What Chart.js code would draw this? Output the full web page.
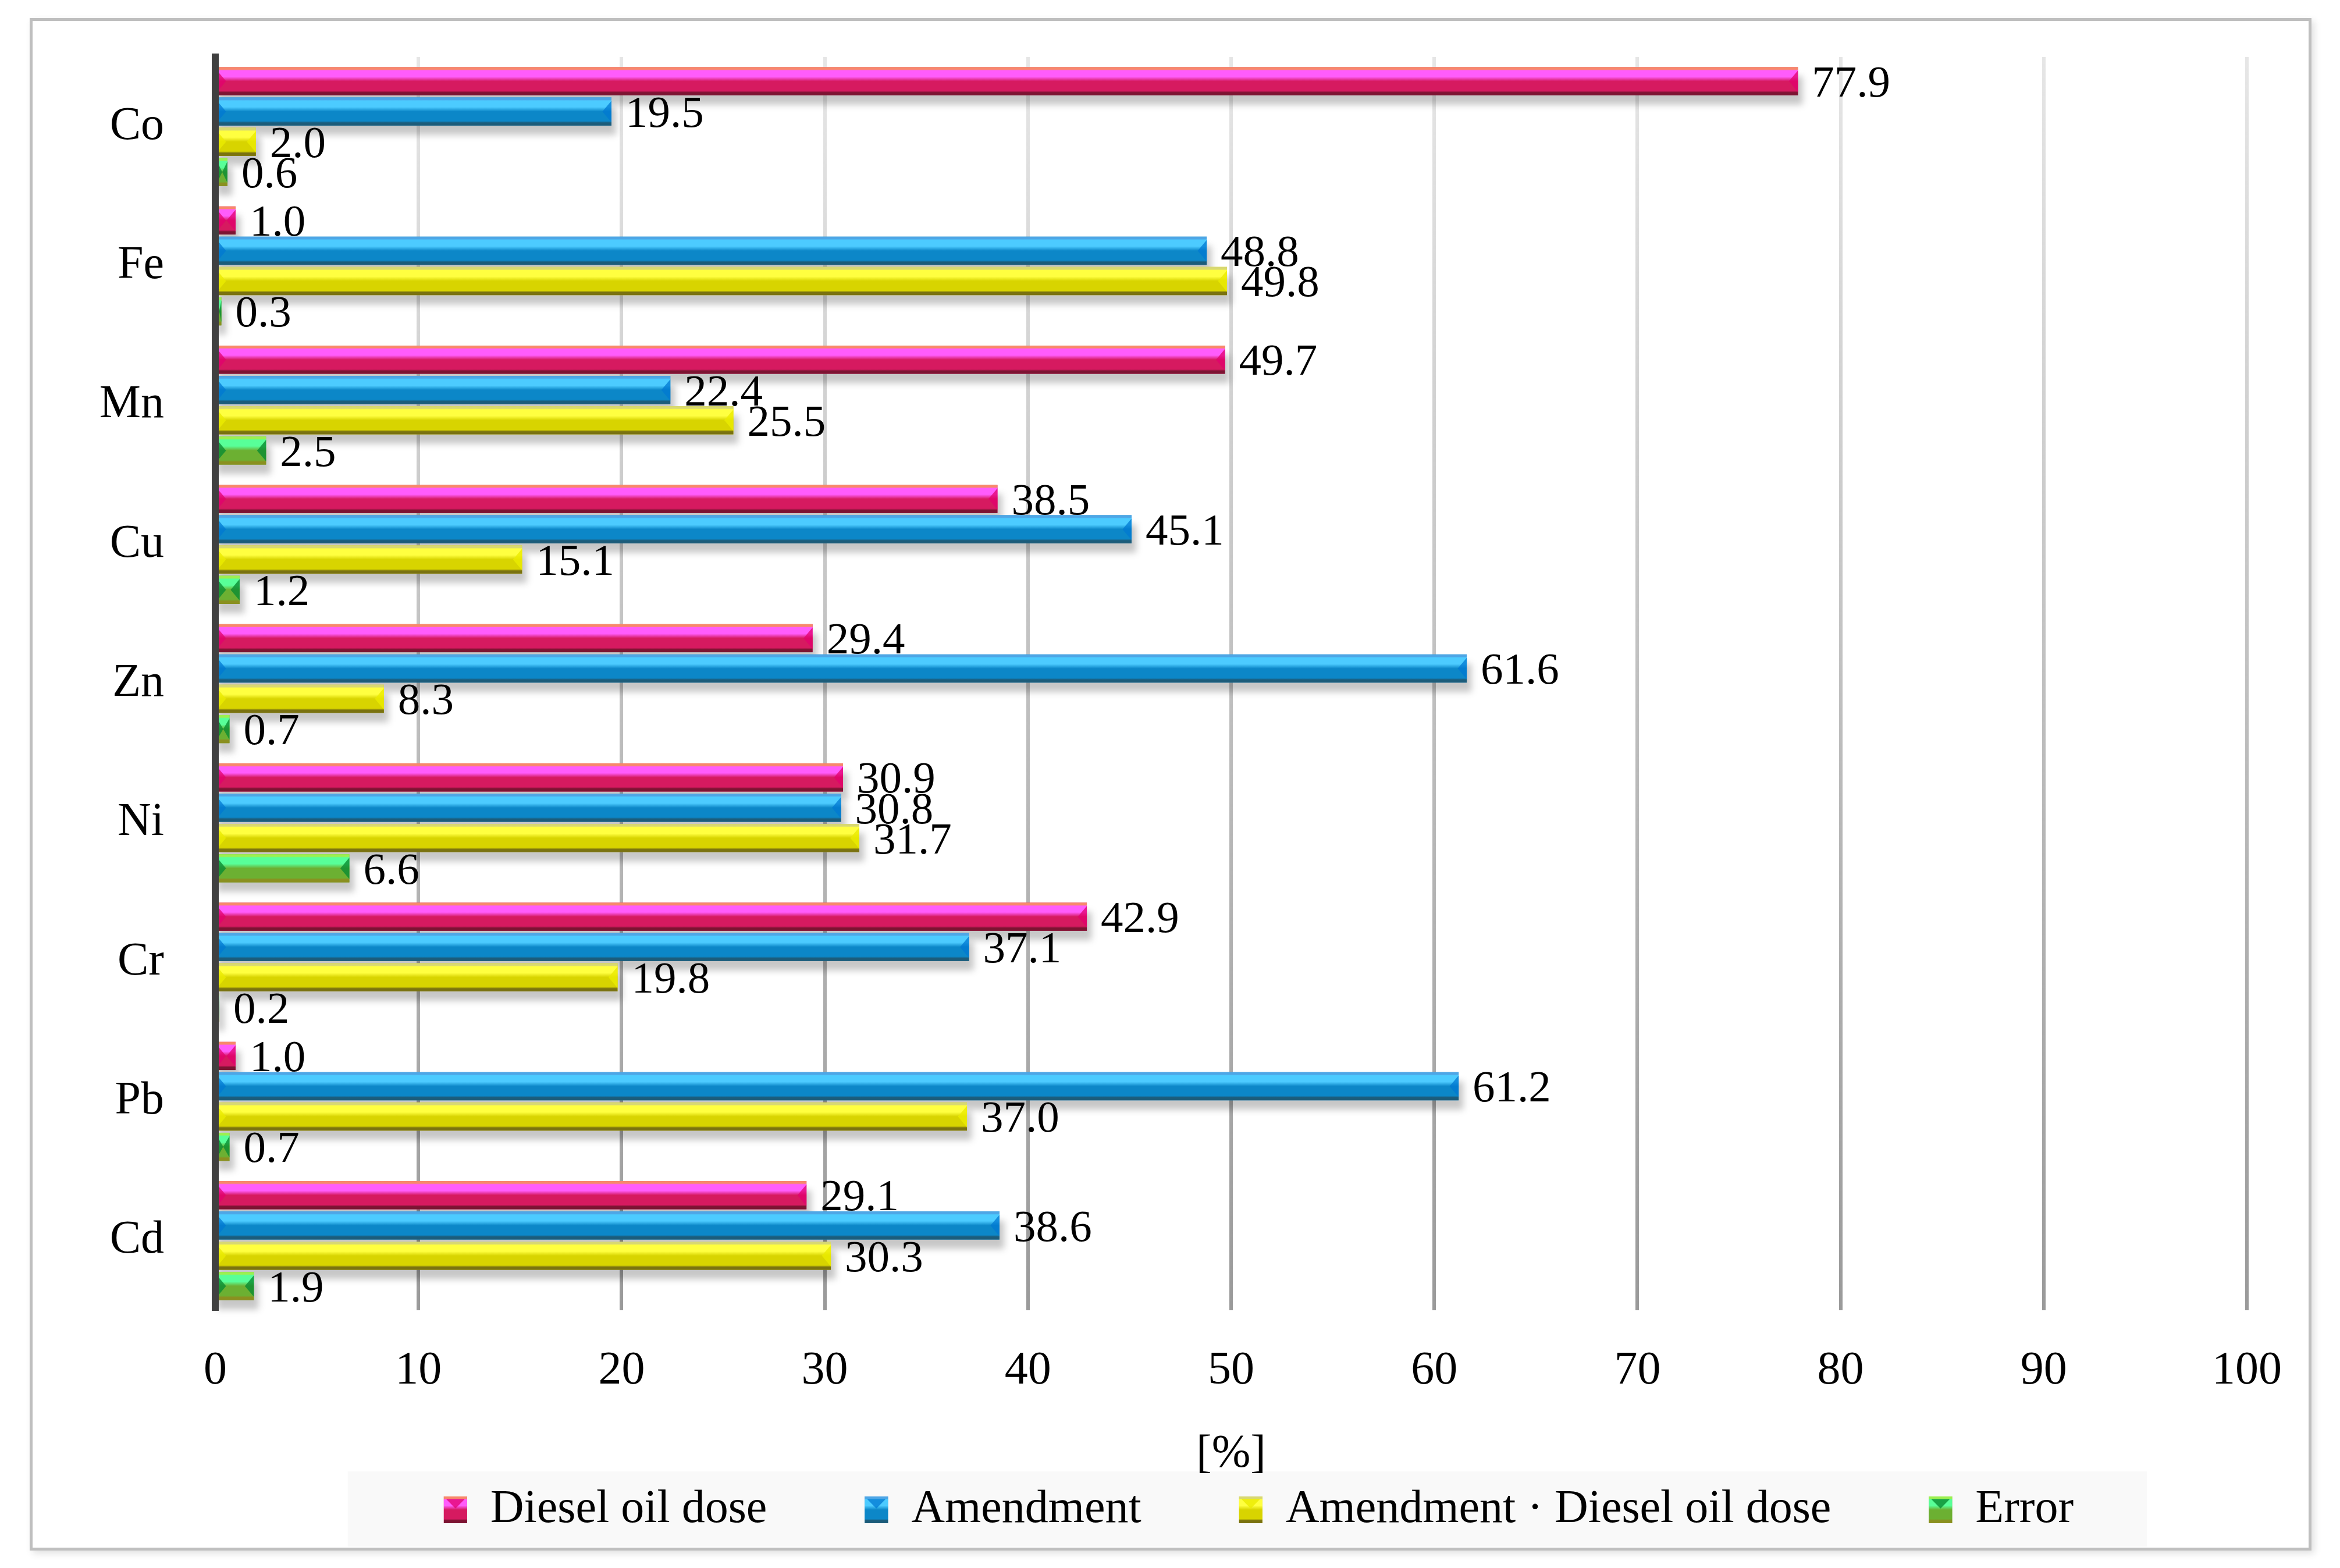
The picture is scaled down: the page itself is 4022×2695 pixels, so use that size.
<!DOCTYPE html>
<html>
<head>
	<meta charset="utf-8">
	<title>Diesel oil dose and amendment – share of variance</title>
	<script src="https://cdn.jsdelivr.net/npm/chart.js@4.4.0/dist/chart.umd.min.js"></script>
	<style>
		html, body { margin: 0; padding: 0; background: #fff; overflow: hidden; width: 4022px; height: 2695px; }
		#frame {
			position: absolute; left: 51px; top: 31px;
			width: 3922px; height: 2634px; box-sizing: border-box;
			border: 5px solid #bfbfbf; background: #fff;
			box-shadow: 5px 5px 12px rgba(0, 0, 0, 0.12);
		}
		#chart { display: block; position: absolute; left: 0; top: 0; }
	</style>
</head>
<body>
	<div id="frame"><canvas id="chart" width="4155" height="2624"></canvas></div>
	<script>
		// dane
		const metals = ['Co', 'Fe', 'Mn', 'Cu', 'Zn', 'Ni', 'Cr', 'Pb', 'Cd'];
		const seriesNames = ['Diesel oil dose', 'Amendment', 'Amendment \u00b7 Diesel oil dose', 'Error'];
		const dieselOil = [77.9, 1.0, 49.7, 38.5, 29.4, 30.9, 42.9, 1.0, 29.1];
		const amendment = [19.5, 48.8, 22.4, 45.1, 61.6, 30.8, 37.1, 61.2, 38.6];
		const interaction = [2.0, 49.8, 25.5, 15.1, 8.3, 31.7, 19.8, 37.0, 30.3];
		const errorPart = [0.6, 0.3, 2.5, 1.2, 0.7, 6.6, 0.2, 0.7, 1.9];
		const xTickValues = [0, 10, 20, 30, 40, 50, 60, 70, 80, 90, 100];

		// kolory "3D" slupkow (gora, jasny pas, srodek, dol, koncowki)
		const shades = [
			{ edge: '#f7896a', light: '#ff5cfb', mid: '#d61a60', dark: '#7c1432', tip: 'rgba(225,0,110,0.75)' },
			{ edge: '#4ea6e6', light: '#4ccbff', mid: '#0c87c8', dark: '#1c5c7a', tip: 'rgba(0,120,210,0.75)' },
			{ edge: '#d8d872', light: '#ffff40', mid: '#d8d400', dark: '#7a7210', tip: 'rgba(235,235,0,0.8)' },
			{ edge: '#9cf050', light: '#58ff98', mid: '#6cb032', dark: '#8a9020', tip: 'rgba(10,140,50,0.8)' }
		];

		Chart.defaults.font.family = "'Liberation Serif', 'Times New Roman', serif";
		Chart.defaults.color = '#000';

		function paintBar(ctx, left, right, top, bottom, s, marker) {
			const h = bottom - top;
			const g = ctx.createLinearGradient(0, top, 0, bottom);
			g.addColorStop(0, s.edge); g.addColorStop(0.08, s.edge);
			g.addColorStop(0.12, s.light); g.addColorStop(0.34, s.light);
			g.addColorStop(0.5, s.mid); g.addColorStop(0.84, s.mid);
			g.addColorStop(0.9, s.dark); g.addColorStop(1, s.dark);
			ctx.fillStyle = g;
			ctx.fillRect(left, top, right - left, h);
			ctx.fillStyle = s.tip;
			if (marker) {
				const w = right - left;
				ctx.beginPath();
				ctx.moveTo(left + w * 0.1, top + h * 0.1);
				ctx.lineTo(left + w / 2, top + h * 0.45);
				ctx.lineTo(right - w * 0.1, top + h * 0.1);
				ctx.fill();
				return;
			}
			const t = Math.min(h * 0.32, (right - left) / 2);
			ctx.beginPath();
			ctx.moveTo(left, top + h * 0.12);
			ctx.lineTo(left + t, top + h / 2);
			ctx.lineTo(left, bottom - h * 0.12);
			ctx.fill();
			ctx.beginPath();
			ctx.moveTo(right, top + h * 0.12);
			ctx.lineTo(right - t, top + h / 2);
			ctx.lineTo(right, bottom - h * 0.12);
			ctx.fill();
		}

		// cienie, cieniowanie slupkow, etykiety wartosci, tlo legendy
		const barLook = {
			id: 'barLook',
			beforeDraw(chart) {
				const hb = chart.legend.legendHitBoxes;
				if (!hb || !hb.length) return;
				const first = hb[0], last = hb[hb.length - 1];
				const ctx = chart.ctx;
				ctx.save();
				ctx.fillStyle = '#f9f9f9';
				const l = first.left - 165, r = last.left + last.width + 126;
				ctx.fillRect(l, first.top - 26, r - l, first.height + 49);
				ctx.restore();
			},
			beforeDatasetsDraw(chart) {
				const ctx = chart.ctx;
				ctx.save();
				ctx.filter = 'blur(6px)';
				ctx.fillStyle = 'rgba(0,0,0,0.22)';
				chart.data.datasets.forEach((ds, i) => {
					chart.getDatasetMeta(i).data.forEach(bar => {
						const p = bar.getProps(['x', 'y', 'base', 'height'], true);
						ctx.fillRect(p.base, p.y - p.height / 2 + 16, p.x - p.base + 8, p.height);
					});
				});
				ctx.restore();
			},
			afterDatasetsDraw(chart) {
				const ctx = chart.ctx;
				ctx.save();
				chart.data.datasets.forEach((ds, i) => {
					chart.getDatasetMeta(i).data.forEach(bar => {
						const p = bar.getProps(['x', 'y', 'base', 'height'], true);
						paintBar(ctx, p.base, p.x, p.y - p.height / 2, p.y + p.height / 2, shades[i]);
					});
				});
				ctx.font = "77px 'Liberation Serif', serif";
				ctx.fillStyle = '#000';
				ctx.textAlign = 'left';
				ctx.textBaseline = 'middle';
				chart.data.datasets.forEach((ds, i) => {
					chart.getDatasetMeta(i).data.forEach((bar, j) => {
						const p = bar.getProps(['x', 'y'], true);
						ctx.fillText(ds.data[j].toFixed(1), p.x + 24, p.y + 6);
					});
				});
				ctx.restore();
			},
			afterDraw(chart) {
				const ctx = chart.ctx;
				const lab = chart.options.plugins.legend.labels;
				ctx.save();
				chart.legend.legendHitBoxes.forEach((hb, i) => {
					const top = hb.top + (lab.font.size - lab.boxHeight) / 2;
					paintBar(ctx, hb.left, hb.left + lab.boxWidth, top, top + lab.boxHeight, shades[i], true);
				});
				ctx.restore();
			}
		};

		const seriesData = [dieselOil, amendment, interaction, errorPart];

		const chart = new Chart(document.getElementById('chart').getContext('2d'), {
			type: 'bar',
			data: {
				labels: metals,
				datasets: seriesNames.map((name, i) => ({
					label: name,
					data: seriesData[i],
					backgroundColor: shades[i].mid,
					borderWidth: 0,
					categoryPercentage: 0.87,
					barPercentage: 0.93
				}))
			},
			options: {
				indexAxis: 'y',
				responsive: false,
				animation: false,
				devicePixelRatio: 1,
				layout: { padding: { left: 60, right: 0, top: 62, bottom: 15 } },
				plugins: {
					tooltip: { enabled: false },
					legend: {
						position: 'bottom',
						labels: { font: { size: 80 }, color: '#000', boxWidth: 40, boxHeight: 46, padding: 168 }
					}
				},
				scales: {
					x: {
						min: 0,
						max: 100,
						afterBuildTicks: s => { s.ticks = xTickValues.map(v => ({ value: v })); },
						afterFit: s => { s.height = 135; s.paddingLeft = 0; s.paddingRight = 0; },
						ticks: { font: { size: 80 }, color: '#000', padding: 57 },
						grid: {
							lineWidth: 6,
							drawTicks: false,
							color: c => {
								const a = c.chart.chartArea;
								if (!a) return '#c4c4c4';
								const g = c.chart.ctx.createLinearGradient(0, a.top, 0, a.bottom);
								g.addColorStop(0, '#e6e6e6');
								g.addColorStop(1, '#9a9a9a');
								return g;
							}
						},
						border: { display: false },
						title: { display: true, text: '[%]', font: { size: 80 }, color: '#000', padding: { top: 0, bottom: -161 } }
					},
					y: {
						position: 'left',
						afterFit: s => { s.width = 254; s.paddingTop = 0; s.paddingBottom = 0; },
						ticks: { font: { size: 80 }, color: '#000', padding: 80 },
						grid: { display: false },
						border: { display: true, color: '#404040', width: 12, z: 1 }
					},
					y2: {
						type: 'category',
						axis: 'y',
						position: 'right',
						afterFit: s => { s.width = 349; s.paddingTop = 0; s.paddingBottom = 0; },
						ticks: { display: false },
						grid: { display: false },
						border: { display: false }
					}
				}
			},
			plugins: [barLook]
		});
	</script>
</body>
</html>
